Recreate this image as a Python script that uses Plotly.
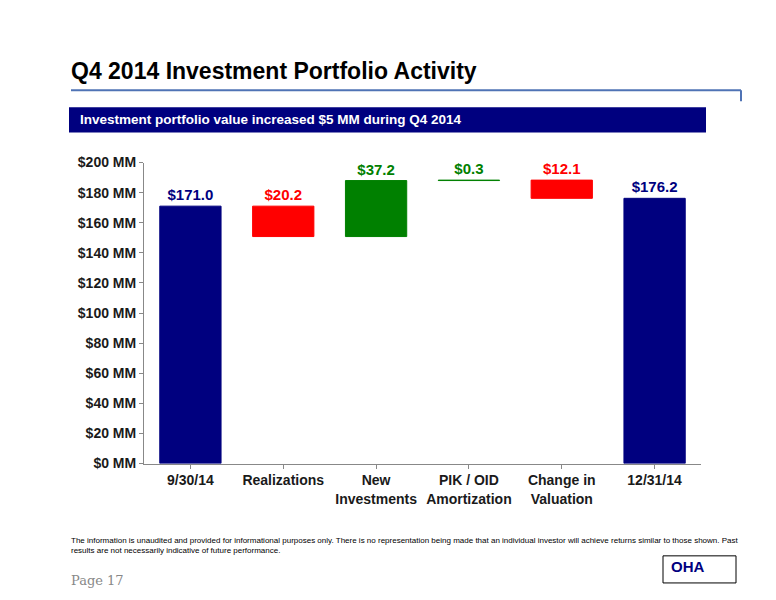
import plotly.graph_objects as go

categories = ["9/30/14", "Realizations", "New<br>Investments", "PIK / OID<br>Amortization", "Change in<br>Valuation", "12/31/14"]
changes = [171.0, -20.2, 37.2, 0.3, -12.1, 176.2]
labels = ["$171.0", "$20.2", "$37.2", "$0.3", "$12.1", "$176.2"]
colors = ["#00007F", "#FF0000", "#008000", "#008000", "#FF0000", "#00007F"]

bases, heights = [], []
running = 0.0
for i, v in enumerate(changes):
    if i == 0 or i == len(changes) - 1:
        bases.append(0); heights.append(v); running = v
    else:
        new = running + v
        bases.append(min(running, new)); heights.append(abs(v)); running = new

def X(px):
    return (px - 7) / 776
def Y(py):
    return 1 - ((py - 17) / 0.97) / 600

fig = go.Figure(go.Bar(
    x=categories, y=heights, base=bases, width=0.66,
    marker=dict(color=colors, line=dict(color=colors, width=1)),
    text=labels, textposition="outside", cliponaxis=False,
    texttemplate="<b>%{text}</b>",
    textfont=dict(color=colors, size=15, family="Liberation Sans"),
))
fig.update_layout(
    width=776, height=600, margin=dict(l=0, r=0, t=0, b=0),
    paper_bgcolor="white", plot_bgcolor="white", showlegend=False,
    font=dict(family="Liberation Sans, Arial", color="#1a1a1a"),
    xaxis=dict(domain=[X(143), X(700)], showline=True, linecolor="#888", ticks="outside",
               tickcolor="#888", ticklen=4, tickvals=categories,
               ticktext=[f"<b>{c}</b>" for c in categories],
               tickfont=dict(size=14, color="#1a1a1a")),
    yaxis=dict(domain=[Y(463), Y(163)], range=[0, 200], showgrid=False,
               showline=True, linecolor="#888", ticks="outside", tickcolor="#888", ticklen=4,
               tickvals=list(range(0, 201, 20)),
               ticktext=[f"<b>${v} MM</b>" for v in range(0, 201, 20)],
               tickfont=dict(size=14, color="#1a1a1a")),
)

shapes = [
    dict(type="line", x0=X(70), x1=X(740), y0=Y(91), y1=Y(91), line=dict(color="#4F73B5", width=2)),
    dict(type="line", x0=X(740), x1=X(740), y0=Y(91), y1=Y(102), line=dict(color="#4F73B5", width=2)),
    dict(type="rect", x0=X(68), x1=X(705), y0=Y(133), y1=Y(108), fillcolor="#00007F", line=dict(width=0)),
    dict(type="rect", x0=X(662), x1=X(735), y0=Y(582), y1=Y(555), fillcolor="white", line=dict(color="#000", width=1)),
]
ann = [
    dict(text="<b>Q4 2014 Investment Portfolio Activity</b>", x=X(68), y=Y(72), xanchor="left",
         yanchor="middle", font=dict(size=23, color="#000")),
    dict(text="<b>Investment portfolio value increased $5 MM during Q4 2014</b>", x=X(77), y=Y(120),
         xanchor="left", yanchor="middle", font=dict(size=13.5, color="white")),
    dict(text="The information is unaudited and provided for informational purposes only. There is no representation being made that an individual investor will achieve returns similar to those shown. Past<br>results are not necessarily indicative of future performance.",
         x=X(68), y=Y(545), xanchor="left", yanchor="middle", align="left",
         font=dict(size=8, color="#000")),
    dict(text="Page 17", x=X(68), y=Y(580), xanchor="left", yanchor="middle",
         font=dict(size=13, color="#888", family="DejaVu Serif")),
    dict(text="<b>OHA</b>", x=X(668), y=Y(566), xanchor="left", yanchor="middle",
         font=dict(size=15, color="#00007F")),
]
for s in shapes:
    s.update(xref="paper", yref="paper")
fig.update_layout(shapes=shapes, annotations=[dict(a, xref="paper", yref="paper", showarrow=False) for a in ann])
fig.write_html("out.html")
